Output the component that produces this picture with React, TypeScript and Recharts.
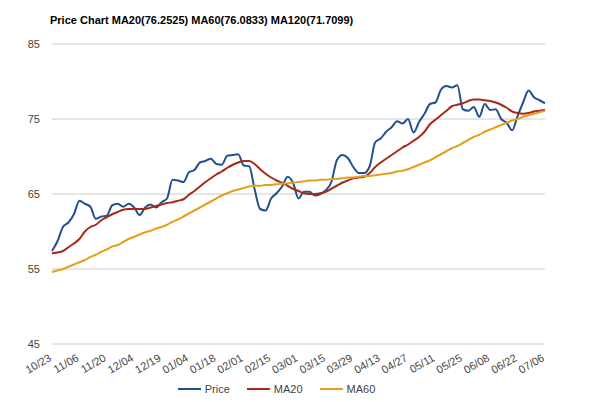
import React from 'react';
import { LineChart, Line, XAxis, YAxis, CartesianGrid, Legend } from 'recharts';

const tickLabels = ['10/23','11/06','11/20','12/04','12/19','01/04','01/18','02/01','02/15','03/01','03/15','03/29','04/13','04/27','05/11','05/25','06/08','06/22','07/06'];
const yTicks = [45, 55, 65, 75, 85];

const price = [
  57.4, 58.7, 60.6, 61.2, 62.3, 64.1, 63.7, 63.3, 61.7, 62.0,
  62.1, 63.5, 63.7, 63.3, 63.7, 63.2, 62.2, 63.2, 63.6, 63.2,
  63.9, 64.4, 66.9, 66.8, 66.6, 67.9, 68.2, 69.2, 69.4, 69.7,
  69.0, 68.9, 70.1, 70.2, 70.3, 68.8, 68.7, 65.6, 63.0, 62.8,
  64.4, 65.1, 66.0, 67.3, 66.5, 64.4, 65.3, 65.3, 64.8, 65.0,
  65.5, 66.6, 69.5, 70.2, 69.8, 68.6, 67.8, 67.8, 68.7, 71.9,
  72.4, 73.3, 73.9, 74.7, 74.4, 75.0, 73.2, 74.6, 75.7, 77.0,
  77.2, 78.9, 79.4, 79.2, 79.5, 76.3, 76.1, 76.6, 75.3, 77.0,
  76.2, 76.3, 75.0, 74.5, 73.5, 75.4, 77.2, 78.8, 77.9, 77.5,
  77.1,
];

const ma20 = [
  57.1, 57.2, 57.4, 57.9, 58.4, 59.0, 60.0, 60.6, 60.9, 61.5,
  61.9, 62.3, 62.6, 62.9, 63.0, 63.0, 63.0, 63.0, 63.2, 63.4,
  63.6, 63.8, 63.9, 64.1, 64.3, 64.9, 65.4, 66.0, 66.6, 67.1,
  67.6, 68.0, 68.5, 68.9, 69.2, 69.4, 69.4, 69.0, 68.3, 67.7,
  67.2, 66.8, 66.5, 66.1, 65.7, 65.4, 65.1, 65.0, 65.0, 65.1,
  65.3, 65.7, 66.1, 66.5, 66.8, 67.1, 67.2, 67.3, 67.8, 68.6,
  69.2, 69.7, 70.2, 70.7, 71.2, 71.6, 72.1, 72.6, 73.3, 74.3,
  74.9, 75.5, 76.1, 76.7, 76.9, 77.1, 77.4, 77.6, 77.6, 77.5,
  77.4, 77.2, 76.9, 76.5, 76.0, 75.8, 75.7, 75.8, 76.0, 76.1,
  76.25,
];

const ma60 = [
  54.6, 54.8, 55.0, 55.3, 55.6, 55.9, 56.2, 56.6, 56.9, 57.3,
  57.6, 58.0, 58.2, 58.6, 59.0, 59.3, 59.6, 59.9, 60.1, 60.4,
  60.6, 60.9, 61.3, 61.6, 62.0, 62.4, 62.8, 63.2, 63.6, 64.0,
  64.4, 64.8, 65.1, 65.4, 65.6, 65.8, 66.0, 66.1, 66.1, 66.2,
  66.2, 66.3, 66.4, 66.4, 66.5, 66.6, 66.7, 66.8, 66.8, 66.9,
  66.9, 67.0, 67.0, 67.1, 67.2, 67.2, 67.3, 67.4, 67.4, 67.5,
  67.6, 67.7, 67.8, 68.0, 68.1, 68.3, 68.6, 68.9, 69.2, 69.5,
  69.9, 70.3, 70.7, 71.1, 71.4, 71.8, 72.2, 72.6, 72.9, 73.3,
  73.6, 73.9, 74.2, 74.5, 74.8, 75.0, 75.3, 75.5, 75.7, 75.9,
  76.08,
];

const seriesNames = ['Price', 'MA20', 'MA60'];
const colors = ['#23508f', '#a52a18', '#e3a11b'];
const title = 'Price Chart MA20(76.2525) MA60(76.0833) MA120(71.7099)';

const STEP = 5;
const data = price.map((p, i) => ({ i, price: p, ma20: ma20[i], ma60: ma60[i] }));
const xTicks = tickLabels.map((_, k) => k * STEP);

const FONT = '"Liberation Sans", Arial, sans-serif';

const XTick = (props: any) => {
  const { x, y, payload } = props;
  const label = tickLabels[Math.round(payload.value / STEP)];
  return (
    <g transform={`translate(${x - 4},${y + 1})`}>
      <text
        x={0}
        y={0}
        dy="0.75em"
        textAnchor="end"
        transform="rotate(-30)"
        fill="#444"
        fontSize={11}
        fontFamily={FONT}
      >
        {label}
      </text>
    </g>
  );
};

const LegendContent = () => (
  <div
    style={{
      display: 'flex',
      justifyContent: 'center',
      alignItems: 'center',
      height: 18,
      fontFamily: FONT,
      fontSize: 11,
      color: '#444',
    }}
  >
    {seriesNames.map((n, k) => (
      <div key={n} style={{ display: 'flex', alignItems: 'center', marginRight: k < seriesNames.length - 1 ? 17 : 0 }}>
        <div style={{ width: 23, height: 2, background: colors[k], marginRight: 4 }} />
        <span>{n}</span>
      </div>
    ))}
  </div>
);

export default function App() {
  return (
    <div style={{ position: 'relative', width: 584, height: 390, background: '#fff' }}>
      <div
        style={{
          position: 'absolute',
          left: 42,
          top: 5,
          fontFamily: FONT,
          fontSize: 11,
          fontWeight: 'bold',
          lineHeight: '14px',
          color: '#000',
          whiteSpace: 'nowrap',
        }}
      >
        {title}
      </div>
      <LineChart width={584} height={390} data={data} margin={{ top: 36, right: 47, bottom: 0, left: 0 }}>
        <CartesianGrid vertical={false} stroke="#cccccc" />
        <XAxis
          dataKey="i"
          type="number"
          domain={[0, 90]}
          ticks={xTicks}
          interval={0}
          axisLine={false}
          tickLine={false}
          height={36}
          tick={<XTick />}
        />
        <YAxis
          domain={[45, 85]}
          ticks={yTicks}
          axisLine={false}
          tickLine={false}
          width={44}
          tickMargin={6}
          tick={{ fill: '#444', fontSize: 11, fontFamily: FONT }}
        />
        <Legend verticalAlign="bottom" content={<LegendContent />} />
        <Line type="monotone" dataKey="price" name="Price" stroke={colors[0]} strokeWidth={2} dot={false} isAnimationActive={false} />
        <Line type="monotone" dataKey="ma20" name="MA20" stroke={colors[1]} strokeWidth={2} dot={false} isAnimationActive={false} />
        <Line type="monotone" dataKey="ma60" name="MA60" stroke={colors[2]} strokeWidth={2} dot={false} isAnimationActive={false} />
      </LineChart>
    </div>
  );
}
